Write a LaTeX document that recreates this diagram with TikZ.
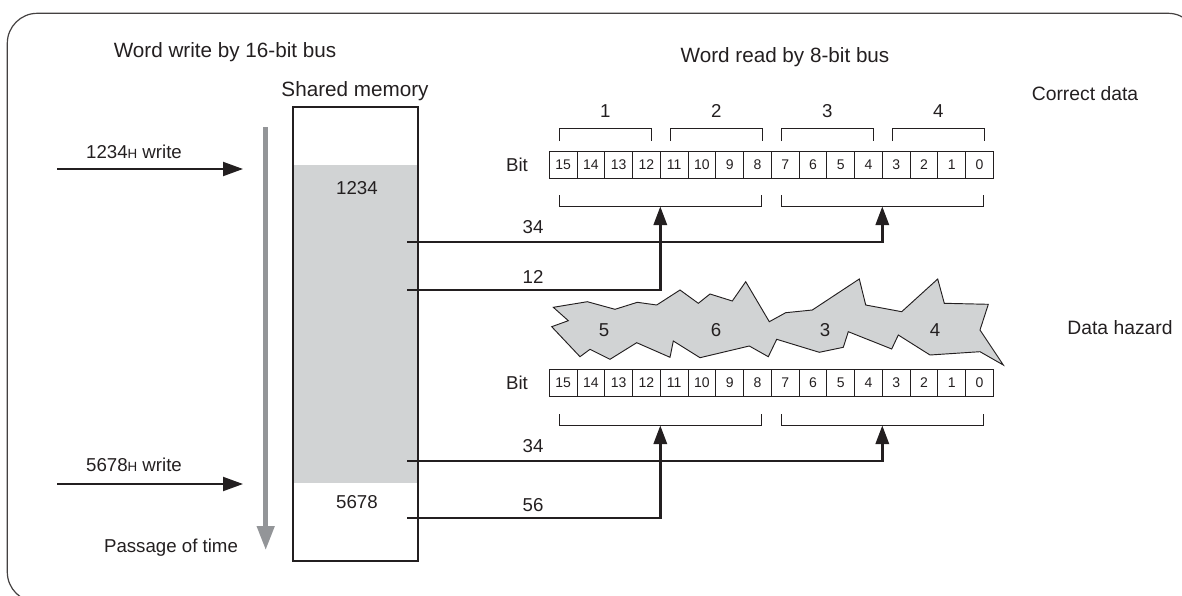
\documentclass[tikz,border=0pt]{standalone}
\usepackage{fontspec}
\setmainfont{Liberation Sans}
\usetikzlibrary{arrows.meta}
\definecolor{ink}{HTML}{231F20}
\definecolor{memgray}{HTML}{D1D3D4}
\definecolor{timegray}{HTML}{939598}
\newcommand{\hsub}{{\fontsize{10}{12}\selectfont H}}
\begin{document}
\begin{tikzpicture}[x=0.75pt,y=-0.75pt,
  txt/.style={text=ink, inner sep=0, anchor=base, font=\fontsize{14}{16}\selectfont},
  title/.style={txt, font=\fontsize{15.5}{18}\selectfont},
  side/.style={txt, font=\fontsize{14.5}{17}\selectfont},
  cell/.style={draw=ink, line width=0.6pt, minimum width=20.8125pt, minimum height=20.25pt,
    inner sep=0, outer sep=0, text=ink, font=\fontsize{10.5}{12}\selectfont},
  brk/.style={draw=ink, line width=0.7pt},
  conn/.style={draw=ink, line width=1.9pt, -{Triangle[length=14pt,width=10pt]}},
  wrarrow/.style={draw=ink, line width=1.5pt, -{Triangle[length=15pt,width=10.5pt]}},
  timearrow/.style={draw=timegray, line width=3.4pt, -{Triangle[length=18pt,width=12.75pt]}},
  membox/.style={draw=ink, line width=1pt, inner sep=0, outer sep=0,
    minimum width=93.75pt, minimum height=340.5pt},
  jag/.style={draw=ink, fill=memgray, line width=0.7pt, line join=miter}
]
\useasboundingbox (0,0) rectangle (1182,596);
% outer frame
\draw[draw=ink!85, line width=0.9pt, rounded corners=22.5pt] (7.3,13.3) rectangle (1198,602);

% titles
\node[title] (t16) at (225,57) {Word write by 16-bit bus};
\node[title] (t8) at (785,62) {Word read by 8-bit bus};
\node[title] (shm) at (355,96) {Shared memory};
\node[side] (corr) at (1085,100) {Correct data};
\node[side] (haz) at (1120,334) {Data hazard};

% shared memory
\fill[memgray] (293,165) rectangle (418,483);
\node[membox] (mem) at (355.5,334) {};
\node[txt] (v1234) at (357,194.5) {1234};
\node[txt] (v5678) at (357,508.5) {5678};

% time arrow
\coordinate (tstart) at (265.7,127);
\coordinate (tend) at (265.7,550);
\draw[timearrow] (tstart) -- (tend);
\node[txt] (pass) at (171,552.5) {Passage of time};

% write arrows
\coordinate (w1a) at (57,169);
\coordinate (w1b) at (243,169);
\coordinate (w2a) at (57,484);
\coordinate (w2b) at (243,484);
\draw[wrarrow] (w1a) -- (w1b);
\draw[wrarrow] (w2a) -- (w2b);
\node[txt] (w1t) at (134,158) {1234\hsub{} write};
\node[txt] (w2t) at (134,471.5) {5678\hsub{} write};

% bit rows
\node[txt] (bitu) at (517,171) {Bit};
\node[txt] (bitl) at (517,389.5) {Bit};
\foreach \i in {0,...,15} {
  \pgfmathtruncatemacro\b{15-\i}
  \node[cell] (u\b) at ({549.3+27.75*(\i+0.5)},164.5) {\b};
  \node[cell] (l\b) at ({549.3+27.75*(\i+0.5)},383) {\b};
}

% upper brackets (nibbles)
\foreach \g/\lab in {0/1,1/2,2/3,3/4} {
  \draw[brk] ({559.3+111*\g},141) -- ({559.3+111*\g},128) -- ({651.3+111*\g},128) -- ({651.3+111*\g},141);
  \node[txt] (n\lab) at ({605.3+111*\g},117.5) {\lab};
}

% byte brackets
\foreach \g in {0,1} {
  \draw[brk] ({559.3+222*\g},195) -- ({559.3+222*\g},206) -- ({761.3+222*\g},206) -- ({761.3+222*\g},195);
  \draw[brk] ({559.3+222*\g},414) -- ({559.3+222*\g},425) -- ({761.3+222*\g},425) -- ({761.3+222*\g},414);
}
\coordinate (tuL) at (660.3,206.5);
\coordinate (tuR) at (882.3,206.5);
\coordinate (tlL) at (660.3,425.5);
\coordinate (tlR) at (882.3,425.5);

% jagged hazard shape
\draw[jag] (553.3,307.3) -- (587.3,301.7) -- (615,309.3) -- (637.3,302.3) -- (656.7,305) -- (680,290)
 -- (698.3,303.3) -- (710,294) -- (732.3,301) -- (745.7,281.7) -- (769.3,321.7) -- (785.7,312.7)
 -- (812.3,310) -- (859.3,279) -- (865.7,305) -- (901.7,311.7) -- (937.7,279) -- (944.3,303.3)
 -- (988.3,304.3) -- (980,330) -- (1003.3,365) -- (980,351.7) -- (930,355) -- (898.3,335)
 -- (891.7,349) -- (848.3,331.7) -- (843.3,347.3) -- (819.3,352.3) -- (776.7,339.3) -- (768.3,356.7)
 -- (749.3,346) -- (700,357.7) -- (673.3,341) -- (670,357.3) -- (636.7,342.7) -- (610,359.3)
 -- (590,349.3) -- (580,356.7) -- (551.7,326.7) -- (568.3,320.7) -- cycle;
\node[txt] (h5) at (604,336.5) {5};
\node[txt] (h6) at (716,336.5) {6};
\node[txt] (h3) at (825,336.5) {3};
\node[txt] (h4) at (935,336.5) {4};

% connectors
\coordinate (s34u) at (407,242);
\coordinate (s12u) at (407,290);
\coordinate (s34l) at (407,461);
\coordinate (s56l) at (407,518);
\draw[conn] (s34u) -| (tuR);
\draw[conn] (s12u) -| (tuL);
\draw[conn] (s34l) -| (tlR);
\draw[conn] (s56l) -| (tlL);
\node[txt] (c34u) at (533,233.5) {34};
\node[txt] (c12u) at (533,283.5) {12};
\node[txt] (c34l) at (533,452.5) {34};
\node[txt] (c56l) at (533,511.5) {56};
\end{tikzpicture}
\end{document}
